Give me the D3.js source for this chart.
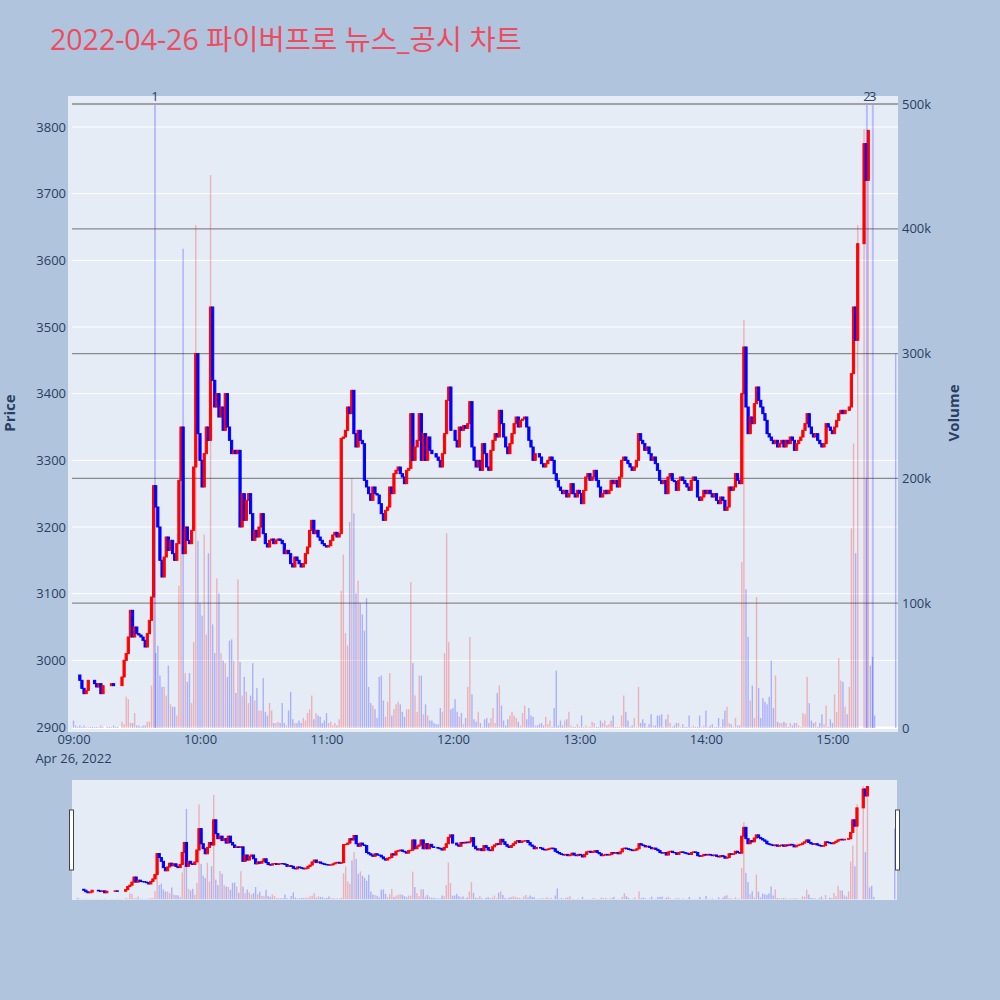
<!DOCTYPE html>
<html lang="ko">
<head>
<meta charset="UTF-8">
<title>2022-04-26 파이버프로 뉴스_공시 차트</title>
<script src="https://cdn.jsdelivr.net/npm/d3@7"></script>
<style>
  body { margin: 0; background: #b0c4de; }
  text { font-family: "Open Sans", "Noto Sans CJK KR", sans-serif; fill: #2a3f5f; }
</style>
</head>
<body>
<svg id="chart" width="1000" height="1000"></svg>
<script>
// one value per minute from 09:00, null = no trade in that minute
const closes = [
  2978, 2978, 2978, 2970, 2958, 2950, 2955, 2970, 2970, 2970, // 09:00
  2965, 2960, 2965, 2950, 2962, null, 2962, 2962, 2965, 2962, // 09:10
  2962, 2962, null, 2975, 3000, 3010, 3035, 3075, 3035, 3050, // 09:20
  3040, 3038, 3035, 3030, 3020, 3040, 3060, 3095, 3262, 3230, // 09:30
  3200, 3150, 3125, 3155, 3185, 3165, 3180, 3160, 3150, 3175, // 09:40
  3270, 3350, 3160, 3200, 3180, 3175, 3195, 3290, 3460, 3340, // 09:50
  3300, 3260, 3310, 3350, 3330, 3530, 3420, 3380, 3400, 3365, // 10:00
  3380, 3345, 3400, 3350, 3330, 3310, 3315, 3310, 3315, 3200, // 10:10
  3250, 3210, 3240, 3250, 3220, 3180, 3195, 3185, 3200, 3220, // 10:20
  3190, 3175, 3170, 3180, 3182, 3175, 3180, 3182, 3180, 3175, // 10:30
  3160, 3165, 3160, 3145, 3140, 3155, 3150, 3145, 3140, 3145, // 10:40
  3160, 3170, 3195, 3210, 3190, 3195, 3185, 3180, 3175, 3172, // 10:50
  3170, 3172, 3180, 3188, 3192, 3185, 3190, 3333, 3335, 3345, // 11:00
  3380, 3370, 3405, 3340, 3320, 3345, 3330, 3325, 3270, 3260, // 11:10
  3250, 3240, 3260, 3250, 3248, 3235, 3220, 3210, 3225, 3230, // 11:20
  3260, 3250, 3280, 3285, 3290, 3280, 3275, 3265, 3285, 3288, // 11:30
  3370, 3300, 3320, 3330, 3370, 3300, 3340, 3300, 3335, 3315, // 11:40
  3310, 3310, 3305, 3300, 3290, 3310, 3340, 3390, 3410, 3345, // 11:50
  3345, 3330, 3320, 3350, 3345, 3352, 3348, 3355, 3388, 3320, // 12:00
  3300, 3290, 3300, 3285, 3325, 3310, 3290, 3285, 3315, 3330, // 12:10
  3340, 3335, 3375, 3355, 3335, 3320, 3310, 3325, 3340, 3355, // 12:20
  3365, 3350, 3360, 3362, 3365, 3350, 3330, 3320, 3300, 3310, // 12:30
  3310, 3305, 3295, 3290, 3295, 3300, 3305, 3300, 3280, 3270, // 12:40
  3260, 3255, 3250, 3255, 3245, 3250, 3265, 3250, 3245, 3255, // 12:50
  3250, 3235, 3255, 3275, 3280, 3270, 3275, 3285, 3270, 3260, // 13:00
  3245, 3250, 3255, 3250, 3255, 3270, 3265, 3270, 3260, 3275, // 13:10
  3300, 3305, 3300, 3295, 3290, 3285, 3290, 3300, 3340, 3330, // 13:20
  3325, 3315, 3320, 3310, 3300, 3305, 3295, 3285, 3270, 3265, // 13:30
  3270, 3250, 3275, 3280, 3270, 3268, 3255, 3270, 3275, 3270, // 13:40
  3265, 3260, 3255, 3270, 3275, 3270, 3245, 3240, 3245, 3255, // 13:50
  3250, 3255, 3250, 3245, 3250, 3240, 3235, 3245, 3240, 3225, // 14:00
  3230, 3260, 3255, 3260, 3280, 3270, 3265, 3400, 3470, 3380, // 14:10
  3340, 3365, 3355, 3385, 3410, 3390, 3380, 3370, 3360, 3340, // 14:20
  3335, 3330, 3325, 3330, 3320, 3325, 3330, 3320, 3330, 3325, // 14:30
  3335, 3330, 3315, 3325, 3330, 3335, 3345, 3355, 3370, 3350, // 14:40
  3340, 3335, 3340, 3330, 3325, 3320, 3325, 3355, 3350, 3345, // 14:50
  3340, 3350, 3360, 3370, 3375, 3370, 3375, 3375, 3380, 3430, // 15:00
  3530, 3480, 3625, null, null, 3775, 3720, 3795, 3795, 3795, // 15:10
  3795, null, null, null, null, null, null, null, null, null, // 15:20
  3795                                                        // 15:30
];

// shares traded per minute, in thousands
const volumes = [
  6, 2, 1, 2, 1, 2, 1, 1, 1, 1,
  1, 1, 1, 2, 1, 0, 1, 1, 1, 2,
  1, 1, 0, 5, 3, 25, 23, 4, 4, 12,
  2, 2, 1, 2, 2, 5, 5, 34, 130, 60,
  66, 42, 33, 33, 26, 50, 19, 17, 17, 10,
  114, 240, 384, 44, 37, 44, 20, 69, 403, 150,
  100, 90, 155, 75, 140, 443, 83, 60, 120, 108,
  60, 54, 52, 41, 70, 71, 54, 28, 119, 53,
  26, 41, 29, 20, 26, 52, 22, 32, 14, 14,
  40, 13, 10, 20, 14, 4, 4, 5, 4, 20,
  4, 2, 14, 29, 7, 4, 4, 6, 4, 8,
  6, 12, 15, 26, 7, 12, 10, 9, 4, 6,
  12, 4, 5, 2, 4, 2, 7, 110, 139, 76,
  66, 165, 200, 172, 108, 118, 100, 91, 78, 104,
  33, 20, 18, 15, 8, 41, 42, 22, 9, 21,
  44, 10, 15, 19, 21, 19, 13, 9, 15, 15,
  117, 52, 26, 13, 42, 42, 11, 19, 10, 6,
  6, 4, 3, 3, 16, 13, 60, 156, 69, 15,
  16, 23, 13, 9, 12, 3, 8, 33, 73, 27,
  7, 5, 13, 4, 1, 7, 8, 4, 8, 16,
  4, 28, 34, 18, 6, 2, 7, 10, 13, 10,
  8, 5, 2, 12, 18, 7, 16, 10, 9, 2,
  2, 3, 4, 2, 9, 3, 6, 1, 16, 46,
  2, 6, 2, 6, 7, 13, 2, 1, 1, 3,
  1, 10, 1, 2, 1, 1, 5, 4, 1, 1,
  6, 4, 6, 2, 3, 6, 10, 1, 1, 1,
  10, 26, 13, 6, 1, 2, 8, 1, 33, 4,
  7, 4, 1, 3, 11, 2, 2, 10, 10, 11,
  1, 7, 11, 4, 1, 2, 4, 4, 1, 3,
  1, 1, 10, 1, 2, 1, 1, 10, 1, 2,
  14, 1, 2, 3, 1, 1, 8, 1, 7, 14,
  17, 4, 3, 1, 8, 2, 2, 133, 327, 111,
  73, 22, 34, 8, 105, 32, 8, 24, 21, 19,
  25, 54, 16, 42, 5, 4, 4, 5, 4, 1,
  4, 2, 4, 4, 2, 1, 12, 11, 41, 20,
  6, 4, 5, 1, 4, 11, 3, 18, 1, 7,
  4, 27, 13, 56, 38, 37, 17, 11, 33, 160,
  228, 140, 403, 0, 0, 480, 200, 470, 50, 57,
  10, 0, 0, 0, 0, 0, 0, 0, 0, 0,
  300
];

const newsTimes = ["09:38:40", "15:16:20", "15:19:10"];
const newsLabels = ["1", "2", "3"];
const priceTicks = [2900, 3000, 3100, 3200, 3300, 3400, 3500, 3600, 3700, 3800];
const volumeTicks = [0, 100, 200, 300, 400, 500];
const hourTicks = [9, 10, 11, 12, 13, 14, 15];

const day = new Date(2022, 3, 26, 9, 0, 0);
const atMinute = m => new Date(day.getTime() + m * 60000);
const parseTime = d3.timeParse("%H:%M:%S");
const atClock = s => {
  const p = parseTime(s);
  return new Date(2022, 3, 26, p.getHours(), p.getMinutes(), p.getSeconds());
};

// open of each candle = previous traded close
const candles = [];
let prev = null;
closes.forEach((c, m) => {
  if (c === null) return;
  const o = prev === null ? c : prev;
  candles.push({ t: atMinute(m), open: o, close: c, vol: volumes[m] });
  prev = c;
});

const RED = "#ff0000", BLUE = "#0000ff";

const svg = d3.select("#chart");
svg.append("rect").attr("width", 1000).attr("height", 1000).attr("fill", "#b0c4de");

// title
svg.append("text")
  .attr("x", 50).attr("y", 50)
  .style("font-size", "28.5px")
  .style("fill", "#ee4c5e")
  .text("2022-04-26 파이버프로 뉴스_공시 차트");

// ---- main panel ----
const plot = { left: 68, right: 898, top: 96, bottom: 732 };
const tDomain = [atMinute(-2.61), atMinute(391.1)];
const pDomain = [2892.5, 3846.5];
const vDomain = [-3.2, 506.4];

const x = d3.scaleTime().domain(tDomain).range([plot.left, plot.right]);
const y = d3.scaleLinear().domain(pDomain).range([plot.bottom, plot.top]);
const yVol = d3.scaleLinear().domain(vDomain).range([plot.bottom, plot.top]);

svg.append("rect")
  .attr("x", plot.left).attr("y", plot.top)
  .attr("width", plot.right - plot.left).attr("height", plot.bottom - plot.top)
  .attr("fill", "#e5ecf6");

svg.append("defs").append("clipPath").attr("id", "clipMain")
  .append("rect")
  .attr("x", plot.left).attr("y", plot.top)
  .attr("width", plot.right - plot.left).attr("height", plot.bottom - plot.top);

// price grid (white)
svg.append("g")
  .selectAll("line").data(priceTicks).join("line")
  .attr("x1", 72).attr("x2", plot.right)
  .attr("y1", d => y(d)).attr("y2", d => y(d))
  .attr("stroke", "#ffffff").attr("stroke-width", 1);

// volume grid (grey) + zero line
svg.append("g")
  .selectAll("line").data(volumeTicks.filter(v => v > 0)).join("line")
  .attr("x1", 72).attr("x2", plot.right)
  .attr("y1", d => yVol(d)).attr("y2", d => yVol(d))
  .attr("stroke", "#8a8a8a").attr("stroke-width", 1.3);
svg.append("line")
  .attr("x1", 72).attr("x2", plot.right)
  .attr("y1", yVol(0)).attr("y2", yVol(0))
  .attr("stroke", "#ffffff").attr("stroke-width", 2);

function drawCandles(g, xs, ys, yv, bodyW, barW) {
  g.append("g").selectAll("rect").data(candles).join("rect")
    .attr("x", d => xs(d.t) - bodyW / 2)
    .attr("y", d => ys(Math.max(d.open, d.close)))
    .attr("width", bodyW)
    .attr("height", d => Math.abs(ys(d.open) - ys(d.close)))
    .attr("fill", d => d.close >= d.open ? RED : BLUE)
    .attr("stroke", d => d.close >= d.open ? RED : BLUE)
    .attr("stroke-width", 1);

  g.append("g").selectAll("rect").data(candles.filter(d => d.vol > 0)).join("rect")
    .attr("x", d => xs(d.t) - barW / 2)
    .attr("y", d => yv(d.vol))
    .attr("width", barW)
    .attr("height", d => yv(0) - yv(d.vol))
    .attr("fill", d => d.close > d.open ? RED : BLUE)
    .attr("fill-opacity", 0.25);
}

const main = svg.append("g").attr("clip-path", "url(#clipMain)");
drawCandles(main, x, y, yVol, 2.2, 1.4);

// news markers
const news = newsTimes.map((s, i) => ({ t: atClock(s), label: newsLabels[i] }));
main.append("g").selectAll("line").data(news).join("line")
  .attr("x1", d => x(d.t)).attr("x2", d => x(d.t))
  .attr("y1", yVol(500) + 1).attr("y2", yVol(0))
  .attr("stroke", "rgba(0,0,255,0.2)").attr("stroke-width", 2);
svg.append("g").selectAll("text").data(news).join("text")
  .attr("x", d => x(d.t)).attr("y", 101)
  .attr("text-anchor", "middle")
  .style("font-size", "13px")
  .text(d => d.label);

// axes
const axisLeft = svg.append("g")
  .attr("transform", `translate(${plot.left},0)`)
  .call(d3.axisLeft(y).tickValues(priceTicks).tickSize(0).tickPadding(2)
    .tickFormat(d3.format("d")));
const axisRight = svg.append("g")
  .attr("transform", `translate(${plot.right},0)`)
  .call(d3.axisRight(yVol).tickValues(volumeTicks).tickSize(0).tickPadding(4)
    .tickFormat(d => d === 0 ? "0" : d + "k"));
const axisBottom = svg.append("g")
  .attr("transform", `translate(0,${plot.bottom})`)
  .call(d3.axisBottom(x).tickValues(hourTicks.map(h => atMinute((h - 9) * 60)))
    .tickSize(0).tickPadding(3).tickFormat(d3.timeFormat("%H:%M")));
[axisLeft, axisRight, axisBottom].forEach(a => {
  a.select(".domain").remove();
  a.selectAll("text").style("font-size", "13px").style("fill", "#2a3f5f")
    .style("font-family", "'Open Sans', sans-serif");
});

svg.append("text")
  .attr("x", x(atMinute(0))).attr("y", 763)
  .attr("text-anchor", "middle")
  .style("font-size", "13px")
  .text("Apr 26, 2022");

svg.append("text")
  .attr("transform", "translate(15,413) rotate(-90)")
  .attr("text-anchor", "middle")
  .style("font-size", "15px").style("font-weight", "bold")
  .text("Price");
svg.append("text")
  .attr("transform", "translate(959,413) rotate(-90)")
  .attr("text-anchor", "middle")
  .style("font-size", "15px").style("font-weight", "bold")
  .text("Volume");

// ---- range slider ----
const slider = { left: 72, right: 897, top: 780, bottom: 900 };
const xs = d3.scaleTime().domain(tDomain).range([slider.left, slider.right]);
const ys = d3.scaleLinear().domain(pDomain).range([slider.bottom, slider.top]);
const yvs = d3.scaleLinear().domain(vDomain).range([slider.bottom, slider.top]);

svg.append("rect")
  .attr("x", slider.left).attr("y", slider.top)
  .attr("width", slider.right - slider.left).attr("height", slider.bottom - slider.top)
  .attr("fill", "#e5ecf6");
svg.select("defs").append("clipPath").attr("id", "clipSlider")
  .append("rect")
  .attr("x", slider.left).attr("y", slider.top)
  .attr("width", slider.right - slider.left).attr("height", slider.bottom - slider.top);

const mini = svg.append("g").attr("clip-path", "url(#clipSlider)");
drawCandles(mini, xs, ys, yvs, 2.2, 1.4);

// slider handles
[slider.left - 2.5, slider.right - 1.5].forEach(hx => {
  svg.append("rect")
    .attr("x", hx).attr("y", 810)
    .attr("width", 4).attr("height", 60)
    .attr("fill", "#ffffff").attr("stroke", "#444").attr("stroke-width", 1);
});
</script>
</body>
</html>
